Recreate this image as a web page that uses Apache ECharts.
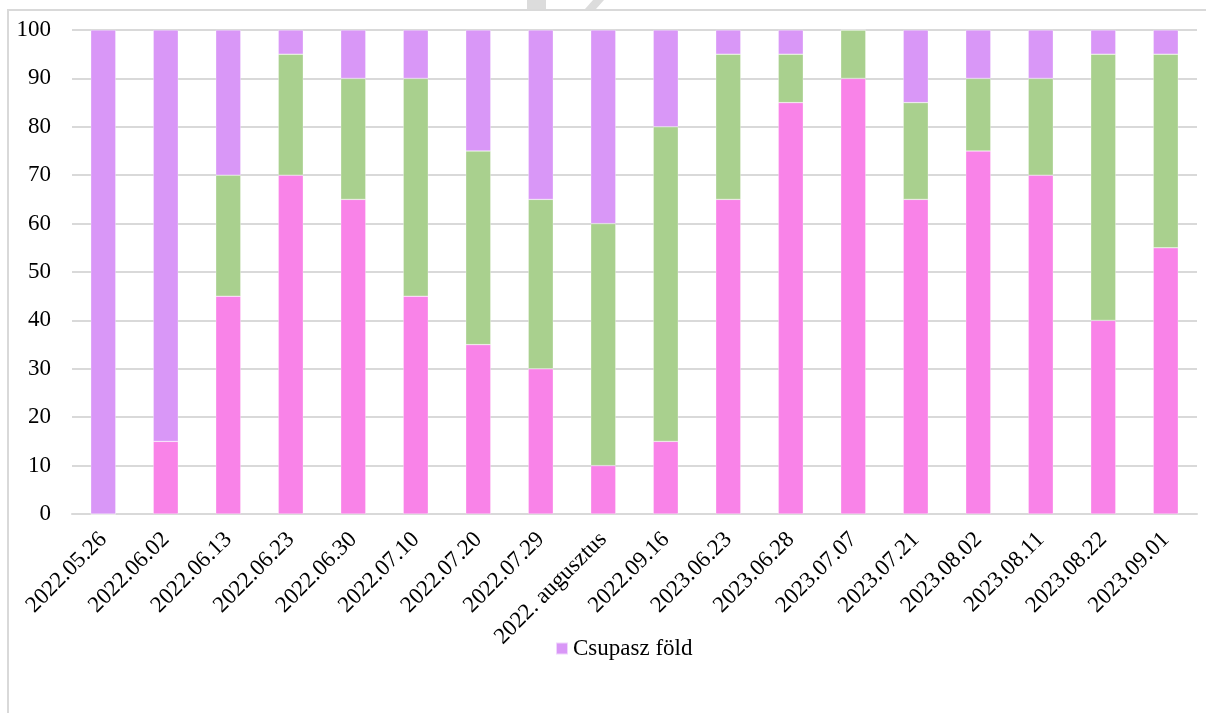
<!DOCTYPE html>
<html>
<head>
<meta charset="utf-8">
<script src="https://cdn.jsdelivr.net/npm/echarts@6/dist/echarts.min.js"></script>
<style>
  html, body { margin: 0; padding: 0; background: #fff; }
  #chart { width: 1206px; height: 713px; }
</style>
</head>
<body>
<div id="chart"></div>
<script>
// Survey dates
const categories = [
  '2022.05.26', '2022.06.02', '2022.06.13', '2022.06.23', '2022.06.30',
  '2022.07.10', '2022.07.20', '2022.07.29', '2022. augusztus', '2022.09.16',
  '2023.06.23', '2023.06.28', '2023.07.07', '2023.07.21', '2023.08.02',
  '2023.08.11', '2023.08.22', '2023.09.01'
];

// Cover percentages per date (bottom to top of each stack)
const pinkCover = [0, 15, 45, 70, 65, 45, 35, 30, 10, 15, 65, 85, 90, 65, 75, 70, 40, 55];
const greenCover = [0, 0, 25, 25, 25, 45, 40, 35, 50, 65, 30, 10, 10, 20, 15, 20, 55, 40];
const bareSoil = [100, 85, 30, 5, 10, 10, 25, 35, 40, 20, 5, 5, 0, 15, 10, 10, 5, 5];

const yTicks = { min: 0, max: 100, interval: 10 };

const FONT = '"Liberation Serif", "DejaVu Serif", serif';
const FS = 23;

const chart = echarts.init(document.getElementById('chart'), null, { renderer: 'canvas' });

const barStyle = (color) => ({ color: color, borderColor: 'rgba(255,255,255,0.6)', borderWidth: 0.5 });

chart.setOption({
  animation: false,
  backgroundColor: '#ffffff',
  textStyle: { fontFamily: FONT },
  graphic: [
    // outer frame
    {
      type: 'polyline',
      shape: { points: [[8, 713], [8, 10], [1206, 10]] },
      style: { stroke: '#d9d9d9', lineWidth: 2, fill: null },
      silent: true
    },
    // small marks along the top edge
    {
      type: 'rect',
      shape: { x: 527, y: 0, width: 19, height: 9 },
      style: { fill: '#dcdcdc' },
      silent: true
    },
    {
      type: 'polygon',
      shape: { points: [[593, 0], [604, 0], [596, 9], [585, 9]] },
      style: { fill: '#dcdcdc' },
      silent: true
    }
  ],
  grid: { left: 72, right: 9, top: 30, bottom: 199, containLabel: false },
  legend: {
    data: ['Csupasz föld'],
    left: 550,
    top: 632,
    icon: 'rect',
    itemWidth: 12,
    itemHeight: 12,
    itemGap: 5,
    textStyle: { fontFamily: FONT, fontSize: FS, color: '#000' }
  },
  xAxis: {
    type: 'category',
    data: categories,
    axisLine: { show: true, lineStyle: { color: '#d9d9d9', width: 2 } },
    axisTick: { show: false },
    axisLabel: {
      rotate: 45,
      interval: 0,
      margin: 22,
      fontFamily: FONT,
      fontSize: FS,
      color: '#000'
    }
  },
  yAxis: {
    type: 'value',
    min: yTicks.min,
    max: yTicks.max,
    interval: yTicks.interval,
    axisLine: { show: false },
    axisTick: { show: false },
    splitLine: { lineStyle: { color: '#d9d9d9', width: 2 } },
    axisLabel: { fontFamily: FONT, fontSize: FS, color: '#000', margin: 21 }
  },
  series: [
    {
      name: 'Növényzet A',
      type: 'bar',
      stack: 'cover',
      barWidth: 25,
      data: pinkCover,
      itemStyle: barStyle('#f983e8')
    },
    {
      name: 'Növényzet B',
      type: 'bar',
      stack: 'cover',
      barWidth: 25,
      data: greenCover,
      itemStyle: barStyle('#a9d08e')
    },
    {
      name: 'Csupasz föld',
      type: 'bar',
      stack: 'cover',
      barWidth: 25,
      data: bareSoil,
      itemStyle: barStyle('#d997f7')
    }
  ]
});
</script>
</body>
</html>
